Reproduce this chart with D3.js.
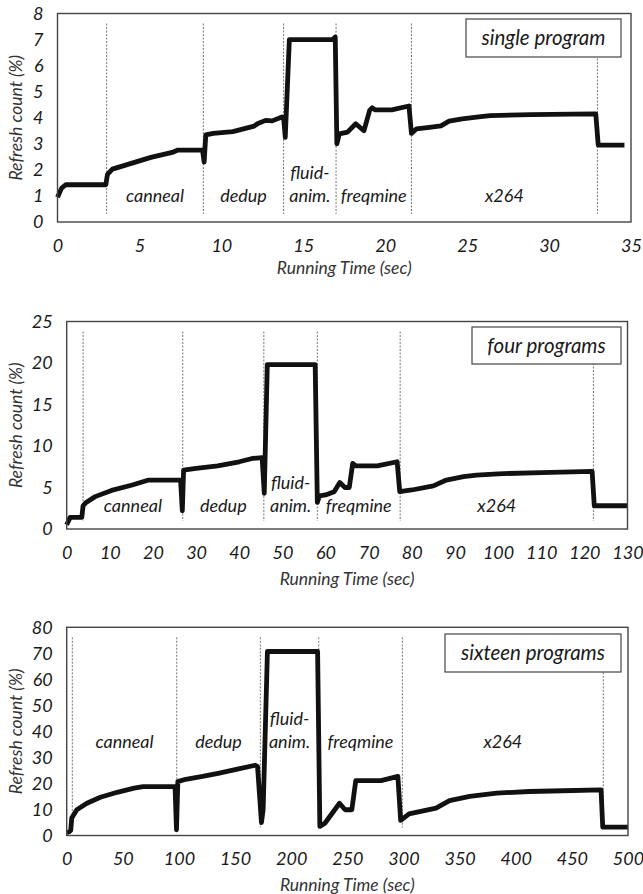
<!DOCTYPE html>
<html>
<head>
<meta charset="utf-8">
<script src="https://cdn.jsdelivr.net/npm/d3@7"></script>
<style>
  body { margin: 0; background: #fff; }
  svg text { font-family: Lato, "Open Sans", sans-serif; font-style: italic; fill: #1a1a1a; }
</style>
</head>
<body>
<svg id="chart" width="643" height="894"></svg>
<script>
// Refresh count over running time, three workloads

var programs = [["canneal"], ["dedup"], ["fluid-", "anim."], ["freqmine"], ["x264"]];

// single program
var time1 = [0, 0.25, 0.5, 2.95, 3.05, 3.35, 4.5, 5.7, 7.0, 7.35,
  8.85, 8.95, 9.05, 9.5, 10.7, 12.0, 12.2, 12.7, 13.1, 13.7,
  13.8, 13.9, 14.15, 16.8, 16.95, 17.05, 17.2, 17.7, 18.2, 18.7,
  19.05, 19.2, 19.4, 20.4, 21.45, 21.6, 21.9, 22.7, 23.4, 23.9,
  24.7, 25.7, 26.4, 28.9, 31.4, 32.85, 33.0, 34.6];
var refresh1 = [0.95, 1.3, 1.43, 1.43, 1.83, 2.03, 2.25, 2.48, 2.67, 2.76,
  2.76, 2.3, 3.34, 3.4, 3.47, 3.68, 3.77, 3.9, 3.88, 4.03,
  4.0, 3.25, 7.0, 7.0, 7.1, 3.0, 3.38, 3.45, 3.77, 3.5,
  4.28, 4.38, 4.3, 4.3, 4.45, 3.4, 3.57, 3.63, 3.69, 3.87,
  3.96, 4.03, 4.08, 4.12, 4.14, 4.15, 2.95, 2.95];
var bounds1 = [3.0, 8.9, 13.8, 17.0, 21.6, 32.95];
var yTicks1 = [0, 1, 2, 3, 4, 5, 6, 7, 8];
var xTicks1 = [0, 5, 10, 15, 20, 25, 30, 35];

// four programs
var time2 = [0, 0.8, 3.5, 3.8, 4.5, 6.6, 10.4, 15.2, 19, 26.4,
  26.8, 27.1, 30, 35, 40, 43, 45.3, 45.8, 46.5, 57.6,
  58.1, 58.6, 60, 62, 63.3, 64.5, 65.5, 66.3, 67, 72,
  76.6, 77.2, 80, 85, 88, 92, 95, 100, 110, 121.8,
  122.3, 130];
var refresh2 = [0.5, 1.4, 1.4, 2.8, 3.2, 3.9, 4.65, 5.3, 5.9, 5.9,
  2.2, 7.1, 7.3, 7.6, 8.1, 8.5, 8.6, 4.3, 19.8, 19.8,
  3.2, 4.0, 4.1, 4.5, 5.6, 5.0, 5.0, 7.9, 7.6, 7.6,
  8.1, 4.5, 4.7, 5.2, 5.9, 6.3, 6.5, 6.65, 6.8, 6.95,
  2.8, 2.8];
var bounds2 = [3.8, 26.9, 45.7, 58.1, 77.3, 122.1];
var yTicks2 = [0, 5, 10, 15, 20, 25];
var xTicks2 = [0, 10, 20, 30, 40, 50, 60, 70, 80, 90, 100, 110, 120, 130];

// sixteen programs
var time3 = [0, 2.5, 3.6, 4.5, 9, 18, 30, 45, 60, 68,
  96.5, 97.8, 99, 106, 121, 136, 152, 168, 170, 173.5,
  175, 178.8, 223.5, 225.5, 230, 243, 248, 254, 257.5, 262,
  280, 295, 297.5, 305, 329, 341, 359, 383, 412, 442,
  476, 477.5, 500];
var refresh3 = [1, 1.5, 2, 6.7, 9.9, 12.4, 14.7, 16.6, 18.2, 18.8,
  18.8, 2.2, 20.7, 21.6, 22.7, 24, 25.5, 27, 26.5, 5,
  10, 70.7, 70.7, 3.5, 4.7, 12.4, 9.9, 9.9, 21.1, 21.1,
  21.1, 22.7, 5.8, 8.3, 10.5, 13.4, 15, 16.3, 16.9, 17.2,
  17.5, 3.2, 3.2];
var bounds3 = [5, 98, 172.5, 224.5, 299, 478];
var yTicks3 = [0, 10, 20, 30, 40, 50, 60, 70, 80];
var xTicks3 = [0, 50, 100, 150, 200, 250, 300, 350, 400, 450, 500];

var panels = [
  { name: "single program", t: time1, v: refresh1, bounds: bounds1, yTicks: yTicks1, xTicks: xTicks1,
    left: 57.5, right: 631, top: 13.5, bottom: 222, legend: [466, 19, 155, 38], labelOff: 20, titleOff: 52 },
  { name: "four programs", t: time2, v: refresh2, bounds: bounds2, yTicks: yTicks2, xTicks: xTicks2,
    left: 66.7, right: 627.5, top: 321.5, bottom: 529, legend: [472, 327, 149, 37], labelOff: 17, titleOff: 56 },
  { name: "sixteen programs", t: time3, v: refresh3, bounds: bounds3, yTicks: yTicks3, xTicks: xTicks3,
    left: 66.7, right: 628, top: 627.3, bottom: 835.5, legend: [445, 634, 176, 38], labelOff: 88, titleOff: 55 }
];

var svg = d3.select("#chart");

panels.forEach(function (p) {
  var g = svg.append("g");
  var x = d3.scaleLinear().domain([0, d3.max(p.xTicks)]).range([p.left, p.right]);
  var y = d3.scaleLinear().domain([0, d3.max(p.yTicks)]).range([p.bottom, p.top]);

  // phase separators
  g.selectAll("line.sep").data(p.bounds).enter().append("line")
    .attr("x1", function (d) { return x(d); }).attr("x2", function (d) { return x(d); })
    .attr("y1", p.top + 10).attr("y2", p.bottom - 8)
    .attr("stroke", "#666").attr("stroke-width", 0.9).attr("stroke-dasharray", "2,1.5");

  // program names, centred between separators
  var mids = programs.map(function (lines, i) {
    return { lines: lines, x: (p.bounds[i] + p.bounds[i + 1]) / 2 };
  });
  var lab = g.selectAll("text.prog").data(mids).enter().append("text")
    .attr("text-anchor", "middle").attr("font-size", 18)
    .attr("x", function (d) { return x(d.x); })
    .attr("y", p.bottom - p.labelOff);
  lab.selectAll("tspan").data(function (d) { return d.lines; }).enter().append("tspan")
    .attr("x", function () { return this.parentNode.getAttribute("x"); })
    .attr("dy", function (d, i, nodes) { return i === 0 ? -(nodes.length - 1) * 23 : 23; })
    .text(function (d) { return d; });

  // the trace
  var pts = d3.zip(p.t, p.v);
  var line = d3.line().x(function (d) { return x(d[0]); }).y(function (d) { return y(d[1]); });
  g.append("path").datum(pts).attr("d", line)
    .attr("fill", "none").attr("stroke", "#111").attr("stroke-width", 4.8)
    .attr("stroke-linejoin", "round");

  // frame
  g.append("rect").attr("x", p.left).attr("y", p.top)
    .attr("width", p.right - p.left).attr("height", p.bottom - p.top)
    .attr("fill", "none").attr("stroke", "#444").attr("stroke-width", 1.4);

  // legend box
  var L = p.legend;
  g.append("rect").attr("x", L[0]).attr("y", L[1]).attr("width", L[2]).attr("height", L[3])
    .attr("fill", "#fff").attr("stroke", "#444").attr("stroke-width", 1.2);
  g.append("text").attr("x", L[0] + L[2] / 2).attr("y", L[1] + L[3] / 2)
    .attr("dy", "0.35em").attr("text-anchor", "middle").attr("font-size", 20.5)
    .text(p.name);

  // axes
  var ya = g.append("g").attr("transform", "translate(" + p.left + ",0)")
    .call(d3.axisLeft(y).tickValues(p.yTicks).tickSize(0).tickPadding(14));
  var xa = g.append("g").attr("transform", "translate(0," + p.bottom + ")")
    .call(d3.axisBottom(x).tickValues(p.xTicks).tickSize(0).tickPadding(17));
  [ya, xa].forEach(function (a) {
    a.select(".domain").remove();
    a.selectAll("text").attr("font-size", 18).attr("font-family", null).style("fill", "#1a1a1a");
  });

  g.append("text").attr("x", (p.left + p.right) / 2).attr("y", p.bottom + p.titleOff)
    .attr("text-anchor", "middle").attr("font-size", 17.5).style("fill", "#333")
    .text("Running Time (sec)");
  g.append("text")
    .attr("transform", "translate(16," + (p.top + p.bottom) / 2 + ") rotate(-90)")
    .attr("dy", "0.35em").attr("text-anchor", "middle").attr("font-size", 17.5).style("fill", "#333")
    .text("Refresh count (%)");
});
</script>
</body>
</html>
